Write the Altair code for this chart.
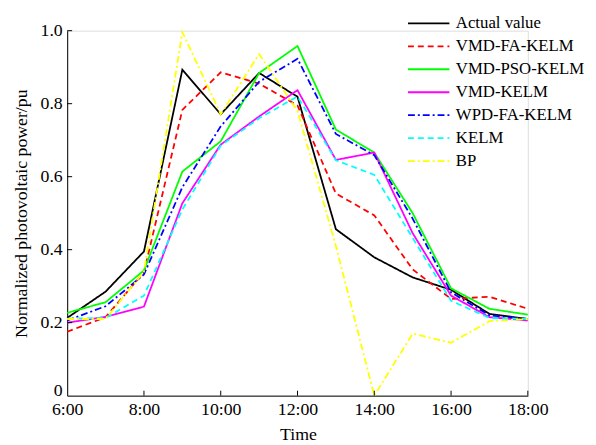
import altair as alt
import pandas as pd

hours = list(range(6, 19))
series_names = ["Actual value", "VMD-FA-KELM", "VMD-PSO-KELM", "VMD-KELM",
                "WPD-FA-KELM", "KELM", "BP"]
actual = [0.213, 0.285, 0.395, 0.893, 0.771, 0.884, 0.819, 0.456, 0.379, 0.324, 0.290, 0.224, 0.210]
vmd_fa_kelm = [0.175, 0.215, 0.338, 0.783, 0.886, 0.855, 0.795, 0.554, 0.494, 0.346, 0.265, 0.271, 0.238]
vmd_pso_kelm = [0.227, 0.256, 0.343, 0.614, 0.697, 0.884, 0.958, 0.729, 0.666, 0.500, 0.294, 0.238, 0.222]
vmd_kelm = [0.200, 0.216, 0.244, 0.527, 0.688, 0.765, 0.837, 0.646, 0.666, 0.445, 0.274, 0.215, 0.206]
wpd_fa_kelm = [0.206, 0.245, 0.332, 0.571, 0.738, 0.860, 0.923, 0.717, 0.659, 0.485, 0.283, 0.220, 0.210]
kelm = [0.211, 0.213, 0.274, 0.510, 0.685, 0.760, 0.820, 0.645, 0.605, 0.432, 0.260, 0.213, 0.210]
bp = [0.210, 0.210, 0.340, 0.996, 0.771, 0.936, 0.780, 0.410, 0.0, 0.170, 0.145, 0.204, 0.210]

series_values = [actual, vmd_fa_kelm, vmd_pso_kelm, vmd_kelm, wpd_fa_kelm, kelm, bp]
colors = ["#000000", "#FF0000", "#00FF00", "#FF00FF", "#0000FF", "#00FFFF", "#FFFF00"]
dashes = [[1, 0], [6, 4], [1, 0], [1, 0], [7, 3, 2, 3], [6, 4], [7, 3, 2, 3]]

x_ticks = [6, 8, 10, 12, 14, 16, 18]
y_ticks = [0, 0.2, 0.4, 0.6, 0.8, 1.0]

rows = []
for i, (name, vals) in enumerate(zip(series_names, series_values)):
    for h, v in zip(hours, vals):
        rows.append({"series": name, "hour": h, "value": v, "order": i})
df = pd.DataFrame(rows)

FONT = "Liberation Serif"
W, H = 467, 370

xscale = alt.Scale(domain=[6, 18], nice=False, zero=False)
yscale = alt.Scale(domain=[0, 1], nice=False)

legend = alt.Legend(
    title=None, orient="none", legendX=358, legendY=-16,
    symbolType="M-3,0H3", symbolSize=196, symbolStrokeWidth=1.8,
    labelFont=FONT, labelFontSize=17, labelColor="#000000",
    labelOffset=19, rowPadding=5.3, padding=0, labelLimit=300,
)

lines = alt.Chart(df).mark_line(strokeWidth=1.8).encode(
    x=alt.X("hour:Q", scale=xscale,
            axis=alt.Axis(values=x_ticks, labelExpr="datum.value + ':00'",
                          title="Time", tickSize=0, labelPadding=5,
                          labelFont=FONT, labelFontSize=18, labelColor="#000",
                          titleFont=FONT, titleFontSize=18, titleFontWeight="normal",
                          titleColor="#000", titleX=234, titleY=39,
                          titleBaseline="middle", grid=False,
                          domainColor="#000", labelFlush=False)),
    y=alt.Y("value:Q", scale=yscale,
            axis=alt.Axis(values=y_ticks,
                          labelExpr="datum.value == 0 ? '0' : format(datum.value, '.1f')",
                          labelBaseline={"condition": {"test": "datum.value == 0", "value": "alphabetic"}, "value": "middle"},
                          title="Normalized photovoltaic power/pu", tickSize=0,
                          labelPadding=5, labelFont=FONT, labelFontSize=18,
                          labelColor="#000", titleFont=FONT, titleFontSize=18,
                          titleFontWeight="normal", titleColor="#000",
                          titleX=-46, titleY=185, titleBaseline="middle",
                          grid=False, domainColor="#000")),
    color=alt.Color("series:N", scale=alt.Scale(domain=series_names, range=colors),
                    legend=legend),
    strokeDash=alt.StrokeDash("series:N", scale=alt.Scale(domain=series_names, range=dashes),
                              legend=legend),
    order=alt.Order("order:Q"),
)

xt = pd.DataFrame({"t": x_ticks[1:]})
yt = pd.DataFrame({"v": y_ticks[1:]})

xticks = alt.Chart(xt).mark_rule(color="#000", strokeWidth=1).encode(
    x=alt.X("t:Q", scale=xscale), y=alt.value(H), y2=alt.value(H - 5))
yticks = alt.Chart(yt).mark_rule(color="#000", strokeWidth=1).encode(
    y=alt.Y("v:Q", scale=yscale), x=alt.value(0), x2=alt.value(5))

chart = alt.layer(lines, xticks, yticks).properties(
    width=W, height=H,
    autosize=alt.AutoSizeParams(type="none"),
    padding={"left": 60, "top": 20, "right": 61, "bottom": 45},
).configure_view(stroke=None).configure(background="white")

chart.save("out.html", embed_options={"renderer": "svg", "actions": False})
